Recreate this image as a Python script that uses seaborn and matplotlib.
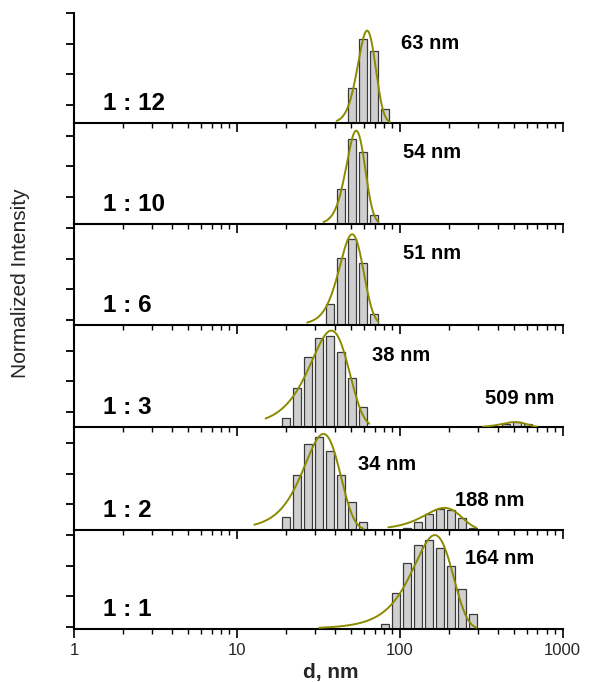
import numpy as np
import pandas as pd
import matplotlib
matplotlib.use("Agg")
import matplotlib.pyplot as plt
import seaborn as sns

# ---------------- data ----------------
ratios = ["1 : 12", "1 : 10", "1 : 6", "1 : 3", "1 : 2", "1 : 1"]

# histogram bars: bin-centre diameter (nm) and normalized intensity (tick units)
d_12 = [50.9, 59.5, 69.5, 81.2]
i_12 = [1.14, 2.74, 2.36, 0.47]
d_10 = [43.6, 50.9, 59.5, 69.5]
i_10 = [1.13, 2.76, 2.35, 0.29]
d_6 = [37.3, 43.6, 50.9, 59.5, 69.5]
i_6 = [0.68, 2.17, 2.80, 1.99, 0.33]
d_3 = [20.0, 23.4, 27.3, 31.9, 37.3, 43.6, 50.9, 59.5, 448.7, 524.1, 612.2]
i_3 = [0.29, 1.29, 2.30, 2.92, 2.97, 2.46, 1.60, 0.65, 0.11, 0.16, 0.11]
d_2 = [20.0, 23.4, 27.3, 31.9, 37.3, 43.6, 50.9, 59.5,
       110.8, 129.4, 151.2, 176.6, 206.3, 241.0, 281.5]
i_2 = [0.43, 1.79, 2.80, 3.02, 2.58, 1.79, 0.92, 0.27,
       0.06, 0.26, 0.51, 0.67, 0.65, 0.40, 0.07]
d_1 = [81.2, 94.8, 110.8, 129.4, 151.2, 176.6, 206.3, 241.0, 281.5]
i_1 = [0.17, 1.17, 2.15, 2.75, 2.91, 2.66, 2.07, 1.30, 0.49]

bar_d = [d_12, d_10, d_6, d_3, d_2, d_1]
bar_i = [i_12, i_10, i_6, i_3, i_2, i_1]

# fitted peaks (Gaussian): centre (nm), sigma (nm), amplitude, drawn range (nm)
peak_mu = [[63], [54], [51], [38, 509], [34, 188], [164]]
peak_sigma = [[8.0], [7.2], [8.7], [10.5, 90.0], [8.8, 50.0], [46.0]]
peak_amp = [[3.01], [3.04], [2.94], [3.15, 0.17], [3.13, 0.72], [3.07]]
fit_lo = [[41], [34], [27], [15, 324], [12.8, 85], [32]]
fit_hi = [[87], [74], [74], [65, 690], [60, 295], [296]]

# peak label anchor (left edge in nm, baseline in intensity units)
label_x = [[102.4], [103.9], [104.8], [67.1, 332.3], [55.5, 217.5], [250.5]]
label_y = [[2.41], [2.16], [2.12], [2.16, 0.75], [1.95, 0.78], [2.12]]

x_ticks = [1, 10, 100, 1000]
x_ticklabels = ["1", "10", "100", "1000"]

# ---------------- style ----------------
sns.set_theme(style="ticks")
plt.rcParams["font.family"] = ["Liberation Sans", "DejaVu Sans"]

BAR_FACE = "#cfcfcf"
BAR_EDGE = "#3a3a3a"
FIT_COLOR = "#8b8b00"
BIN_LOG = 0.0673   # bin width in decades
SHRINK = 0.77

W, H = 600, 682
fig = plt.figure(figsize=(W / 100, H / 100), dpi=100)

# panel boundaries in pixels from top
bounds = [13, 123, 224, 324.5, 427.3, 530, 629.3]
left_px, right_px = 74, 562.7
tick_px = 30.7
grid = [13 + tick_px * j for j in range(21)]

for p in range(6):
    t, b = bounds[p], bounds[p + 1]
    ax = fig.add_axes([left_px / W, 1 - b / H, (right_px - left_px) / W, (b - t) / H])
    ax.set_facecolor("none")

    df = pd.DataFrame({"d": bar_d[p], "I": bar_i[p]})
    lo = np.log10(min(bar_d[p])) - BIN_LOG / 2
    hi = np.log10(max(bar_d[p])) + BIN_LOG / 2
    sns.histplot(data=df, x="d", weights="I", log_scale=(True, False),
                 binwidth=BIN_LOG, binrange=(lo, hi), shrink=SHRINK,
                 color=BAR_FACE, edgecolor=BAR_EDGE, linewidth=0.9,
                 alpha=1.0, ax=ax, zorder=2)

    for mu, sg, amp, a, z in zip(peak_mu[p], peak_sigma[p], peak_amp[p],
                                 fit_lo[p], fit_hi[p]):
        xs = np.linspace(a, z, 300)
        ys = amp * np.exp(-(xs - mu) ** 2 / (2 * sg ** 2))
        sns.lineplot(x=xs, y=ys, ax=ax, color=FIT_COLOR, linewidth=1.4,
                     zorder=3, estimator=None, sort=False)

    for mu, lx, ly in zip(peak_mu[p], label_x[p], label_y[p]):
        ax.text(lx, ly, f"{mu} nm", fontsize=14.5, fontweight="bold",
                ha="left", va="baseline", color="black", zorder=4)

    ax.text((103 - left_px) / (right_px - left_px), 13 / tick_px, ratios[p],
            transform=ax.get_yaxis_transform(), fontsize=17.5,
            fontweight="bold", ha="left", va="baseline", color="black")

    ax.set_xscale("log")
    ax.set_xlim(1, 1000)
    ax.set_ylim(0, (b - t) / tick_px)
    yt = [(b - g) / tick_px for g in grid if t - 0.5 <= g <= b]
    ax.set_yticks(yt)
    ax.set_yticklabels([])
    ax.set_ylabel("")
    ax.set_xlabel("")

    sns.despine(ax=ax, top=True, right=True)
    for s in ("left", "bottom"):
        ax.spines[s].set_linewidth(1.5)
        ax.spines[s].set_color("black")

    ax.set_xticks(x_ticks)
    ax.tick_params(axis="x", which="major", direction="out", length=6.2,
                   width=1.2, color="black", labelsize=12, pad=4)
    ax.tick_params(axis="x", which="minor", direction="out", length=3.4,
                   width=1.0, color="black")
    ax.tick_params(axis="y", which="major", direction="out", length=5.8,
                   width=1.3, color="black")
    ax.tick_params(axis="y", which="minor", left=False)
    if p < 5:
        ax.tick_params(axis="x", labelbottom=False)
    else:
        ax.set_xticklabels(x_ticklabels)

fig.text(331 / W, 1 - 678.3 / H, "d, nm", fontsize=15, fontweight="bold",
         ha="center", va="baseline")
fig.text(21 / W, 1 - 283 / H, "Normalized Intensity", fontsize=15,
         rotation=90, ha="center", va="center")

fig.savefig("out.png", dpi=100)
